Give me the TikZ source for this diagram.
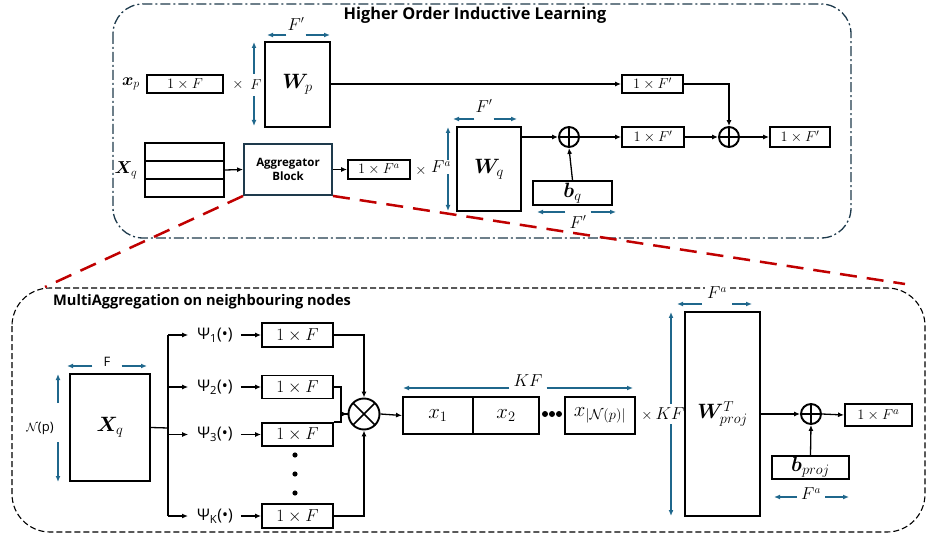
\documentclass[tikz,border=0pt]{standalone}
\usepackage{amsmath,bm}
\usepackage{fontspec}
\setsansfont{Open Sans}
\usetikzlibrary{arrows.meta,calc}
\definecolor{dimblue}{RGB}{31,103,140}
\definecolor{frameteal}{RGB}{30,58,76}
\definecolor{zoomred}{RGB}{192,0,0}
\tikzset{
  bx/.style={draw, line width=1.9pt, inner sep=0pt, rectangle},
  conn/.style={line width=1.3pt, -{Latex[length=6pt,width=5pt]}},
  plainline/.style={line width=1.3pt},
  dimarr/.style={dimblue, line width=1.6pt, -{Latex[length=6pt,width=5pt]}},
  opl/.style={circle, draw, line width=1.9pt, minimum size=20pt, inner sep=0pt,
    path picture={\draw[line width=1.6pt] (path picture bounding box.north) -- (path picture bounding box.south)
      (path picture bounding box.west) -- (path picture bounding box.east);}},
  otm/.style={circle, draw, line width=1.9pt, minimum size=31pt, inner sep=0pt,
    path picture={\draw[line width=1.6pt] (path picture bounding box.north west) -- (path picture bounding box.south east)
      (path picture bounding box.south west) -- (path picture bounding box.north east);}},
  mt/.style={font=\fontsize{14}{16}\selectfont, inner sep=1pt},
  dl/.style={font=\fontsize{16}{18}\selectfont, inner sep=1pt},
  mtb/.style={font=\fontsize{18}{20}\selectfont, inner sep=1pt},
  mtw/.style={font=\fontsize{21}{23}\selectfont, inner sep=1pt},
  bm17/.style={font=\fontsize{17}{19}\selectfont},
  ps/.style={font=\sffamily\fontsize{16}{18}\selectfont, inner sep=5pt},
}
\begin{document}
\begin{tikzpicture}[x=1pt,y=-1pt]
\useasboundingbox (0,0) rectangle (927,540);
% frames
\draw[frameteal, line width=1.3pt, rounded corners=30pt, dash pattern=on 10pt off 3pt on 2pt off 3pt] (113,4) rectangle (851,238);
\draw[black, line width=1.1pt, rounded corners=38pt, dash pattern=on 6pt off 3pt] (12,288) rectangle (925,532);
\node[font=\sffamily\bfseries\fontsize{16.3}{18}\selectfont, inner sep=0pt] (title1) at (475,15) {Higher Order Inductive Learning};
\node[font=\sffamily\bfseries\fontsize{14.6}{16}\selectfont, inner sep=0pt, anchor=west] (title2) at (53,302) {MultiAggregation on neighbouring nodes};

% ===== top =====
\node[mtb] (xpl) at (131,84) {$\bm{x}_p$};
\node[bx, minimum width=76pt, minimum height=18pt, mt] (xpbox) at (185,84) {$1\times F$};
\node[mt] (xtimes) at (238,85) {$\times$};
\node[mt] (Fv) at (256,85) {$F$};
\node[bx, minimum width=65pt, minimum height=85pt, mtw] (Wp) at (297.5,84.5) {$\bm{W}_p$};
\coordinate (wpv1) at (254,42); \coordinate (wpv2) at (254,126);
\draw[dimarr] (Fv.north -| wpv1) ++(0,-5) -- (wpv1);
\draw[dimarr] (Fv.south -| wpv2) ++(0,5) -- (wpv2);
\node[dl] (Fp1) at (296,24) {$F'$};
\coordinate (wph1) at (267,35); \coordinate (wph2) at (330,35);
\draw[dimarr] (Fp1.west |- wph1) -- (wph1);
\draw[dimarr] (Fp1.east |- wph2) -- (wph2);

\node[mtb] (Xql) at (126,170) {$\bm{X}_q$};
\node[bx, minimum width=79pt, minimum height=18pt] (Xq1) at (184.5,152) {};
\node[bx, minimum width=79pt, minimum height=18pt] (Xq2) at (184.5,170) {};
\node[bx, minimum width=79pt, minimum height=18pt] (Xq3) at (184.5,188) {};
\node[bx, draw=frameteal, minimum width=88pt, minimum height=51pt, align=center,
  font=\sffamily\bfseries\fontsize{11.5}{14}\selectfont] (agg) at (288,169.5) {Aggregator\\Block};
\draw[conn] (Xq2.east) -- (agg.west);
\node[bx, minimum width=62pt, minimum height=19pt, mt] (fabox) at (379,169.5) {$1\times F^a$};
\draw[conn] (agg.east) -- (fabox.west);
\node[mt] (xtimes2) at (421,171) {$\times$};
\node[dl] (Fav) at (441,167) {$F^a$};
\node[bx, minimum width=64pt, minimum height=84pt, mtw] (Wq) at (489,169) {$\bm{W}_q$};
\coordinate (wqv1) at (448,127); \coordinate (wqv2) at (448,211);
\draw[dimarr] (Fav.north -| wqv1) -- (wqv1);
\draw[dimarr] (Fav.south -| wqv2) -- (wqv2);
\node[dl] (Fp2) at (484,106) {$F'$};
\coordinate (wqh1) at (453,119); \coordinate (wqh2) at (517,119);
\draw[dimarr] (Fp2.west |- wqh1) -- (wqh1);
\draw[dimarr] (Fp2.east |- wqh2) -- (wqh2);

\node[opl] (op1) at (569,137) {};
\node[bx, minimum width=62pt, minimum height=20pt, mt] (midbox) at (653,137) {$1\times F'$};
\node[bx, minimum width=61pt, minimum height=18pt, mt] (topbox) at (652.5,84) {$1\times F'$};
\node[opl] (op2) at (729,137) {};
\node[bx, minimum width=60pt, minimum height=20pt, mt] (finbox) at (800,137) {$1\times F'$};
\node[bx, minimum width=79pt, minimum height=24pt, mtw] (bq) at (572.5,193) {$\bm{b}_q$};
\node[dl] (Fp3) at (578,222) {$F'$};
\coordinate (bqh1) at (537,212); \coordinate (bqh2) at (616,212);
\draw[dimarr] (Fp3.west |- bqh1) ++(-3,0) -- (bqh1);
\draw[dimarr] (Fp3.east |- bqh2) ++(3,0) -- (bqh2);

\draw[conn] (Wp.east |- topbox) -- (topbox.west);
\draw[conn] (Wq.east |- op1) -- (op1.west);
\draw[conn] (bq.north) -- (op1.south);
\draw[conn] (op1.east) -- (midbox.west);
\draw[conn] (midbox.east) -- (op2.west);
\draw[conn] (topbox.east) -| (op2.north);
\draw[conn] (op2.east) -- (finbox.west);

% ===== bottom =====
\node[bx, minimum width=80pt, minimum height=107pt, mtw] (XqB) at (110,427.5) {$\bm{X}_q$};
\node[font=\sffamily\fontsize{13}{15}\selectfont, inner sep=1pt] (Fs) at (107,362) {F};
\coordinate (xh1) at (67,366); \coordinate (xh2) at (147,366);
\draw[dimarr] (Fs.west |- xh1) ++(-10,0) -- (xh1);
\draw[dimarr] (Fs.east |- xh2) ++(10,0) -- (xh2);
\node[font=\fontsize{13}{15}\selectfont, inner sep=1pt] (Np) at (40,428) {$\mathcal{N}$\sffamily(p)};
\coordinate (xv1) at (58,374); \coordinate (xv2) at (58,482); \coordinate (xvm1) at (58,403); \coordinate (xvm2) at (58,442);
\draw[dimarr] (xvm1) -- (xv1);
\draw[dimarr] (xvm2) -- (xv2);

\coordinate (br) at (168,428);
\coordinate (brt) at (168,335);
\coordinate (brb) at (168,516);
\draw[plainline] (XqB.east) -- (br);
\draw[plainline] (brt) -- (brb);

\node[ps] (ps1) at (215,335) {Ψ\textsubscript{1}(•)};
\node[ps] (ps2) at (215,387) {Ψ\textsubscript{2}(•)};
\node[ps] (ps3) at (215,434.5) {Ψ\textsubscript{3}(•)};
\node[ps] (psK) at (215,516) {Ψ\textsubscript{K}(•)};
\foreach \n in {ps1,ps2,ps3,psK} {\draw[conn, shorten >=4pt] (brt |- \n) -- (\n.west);}

\node[bx, minimum width=71pt, minimum height=24pt, bm17] (b1) at (297.5,335) {$1\times F$};
\node[bx, minimum width=71pt, minimum height=23pt, bm17] (b2) at (297.5,387) {$1\times F$};
\node[bx, minimum width=71pt, minimum height=23pt, bm17] (b3) at (297.5,434.5) {$1\times F$};
\node[bx, minimum width=71pt, minimum height=24pt, bm17] (bK) at (297.5,516) {$1\times F$};
\draw[conn, shorten <=3pt] (ps1.east) -- (b1.west);
\draw[conn, shorten <=3pt] (ps2.east) -- (b2.west);
\draw[conn, shorten <=3pt] (ps3.east) -- (b3.west);
\draw[conn, shorten <=3pt] (psK.east) -- (bK.west);
\fill (295,455) circle (2.6pt) (295,474) circle (2.6pt) (295,493) circle (2.6pt);

\node[otm] (ot) at (364,414) {};
\draw[conn] (b1.east) -| (ot.north);
\draw[conn] (bK.east) -| (ot.south);
\draw[conn] (b2.east) -- ++(7,0) |- (ot.west);
\draw[plainline] (b3.north east) -- ++(7,0) |- (ot.west);

\node[bx, minimum width=70pt, minimum height=37pt, font=\fontsize{21}{23}\selectfont] (x1) at (438,415.5) {$x_1$};
\node[bx, minimum width=66pt, minimum height=37pt, font=\fontsize{21}{23}\selectfont] (x2) at (506,415.5) {$x_2$};
\draw[conn] (ot.east) -- (x1.west);
\fill (545,414) circle (3pt) (552,414) circle (3pt) (559,414) circle (3pt);
\node[bx, minimum width=70pt, minimum height=37pt, font=\fontsize{20}{22}\selectfont] (xN) at (600,415.5) {$x_{|\mathcal{N}(p)|}$};
\node[mt] (xt3) at (647,416) {$\times$};
\node[dl] (KFv) at (670,414) {$KF$};
\node[dl] (KFh) at (528,381) {$KF$};
\coordinate (kh1) at (403,388); \coordinate (kh2) at (633,388);
\draw[dimarr] (KFh.west |- kh1) ++(-3,0) -- (kh1);
\draw[dimarr] (KFh.east |- kh2) ++(3,0) -- (kh2);
\node[bx, minimum width=75pt, minimum height=204pt, font=\fontsize{21}{23}\selectfont] (Wproj) at (722.5,414) {$\bm{W}^{T}_{proj}$};
\coordinate (kv1) at (671,312); \coordinate (kv2) at (671,516);
\draw[dimarr] (KFv.north -| kv1) ++(0,-3) -- (kv1);
\draw[dimarr] (KFv.south -| kv2) ++(0,3) -- (kv2);
\node[dl, fill=white, inner sep=2pt] (Fa2) at (717,293) {$F^a$};
\coordinate (wh1) at (677,304); \coordinate (wh2) at (752,304);
\draw[dimarr] (Fa2.west |- wh1) ++(-3,0) -- (wh1);
\draw[dimarr] (Fa2.east |- wh2) ++(3,0) -- (wh2);

\node[opl] (op3) at (811,414) {};
\node[bx, minimum width=67pt, minimum height=22pt, font=\fontsize{15}{17}\selectfont] (outbox) at (878.5,415) {$1\times F^a$};
\node[bx, minimum width=77pt, minimum height=23pt, mtw] (bproj) at (810.5,467.5) {$\bm{b}_{proj}$};
\draw[conn] (Wproj.east |- op3) -- (op3.west);
\draw[conn] (op3.east) -- (outbox.west);
\draw[conn] (bproj.north) -- (op3.south);
\node[dl] (Fa3) at (811,494) {$F^a$};
\coordinate (bph1) at (774,497); \coordinate (bph2) at (849,497);
\draw[dimarr] (Fa3.west |- bph1) ++(-3,0) -- (bph1);
\draw[dimarr] (Fa3.east |- bph2) ++(3,0) -- (bph2);

% red zoom lines
\coordinate (rl) at (45,287);
\coordinate (rr) at (905,284);
\draw[zoomred, line width=2.5pt, dash pattern=on 17pt off 10pt] (agg.south west) -- (rl);
\draw[zoomred, line width=2.5pt, dash pattern=on 17pt off 10pt] (agg.south east) -- (rr);
\end{tikzpicture}
\end{document}
